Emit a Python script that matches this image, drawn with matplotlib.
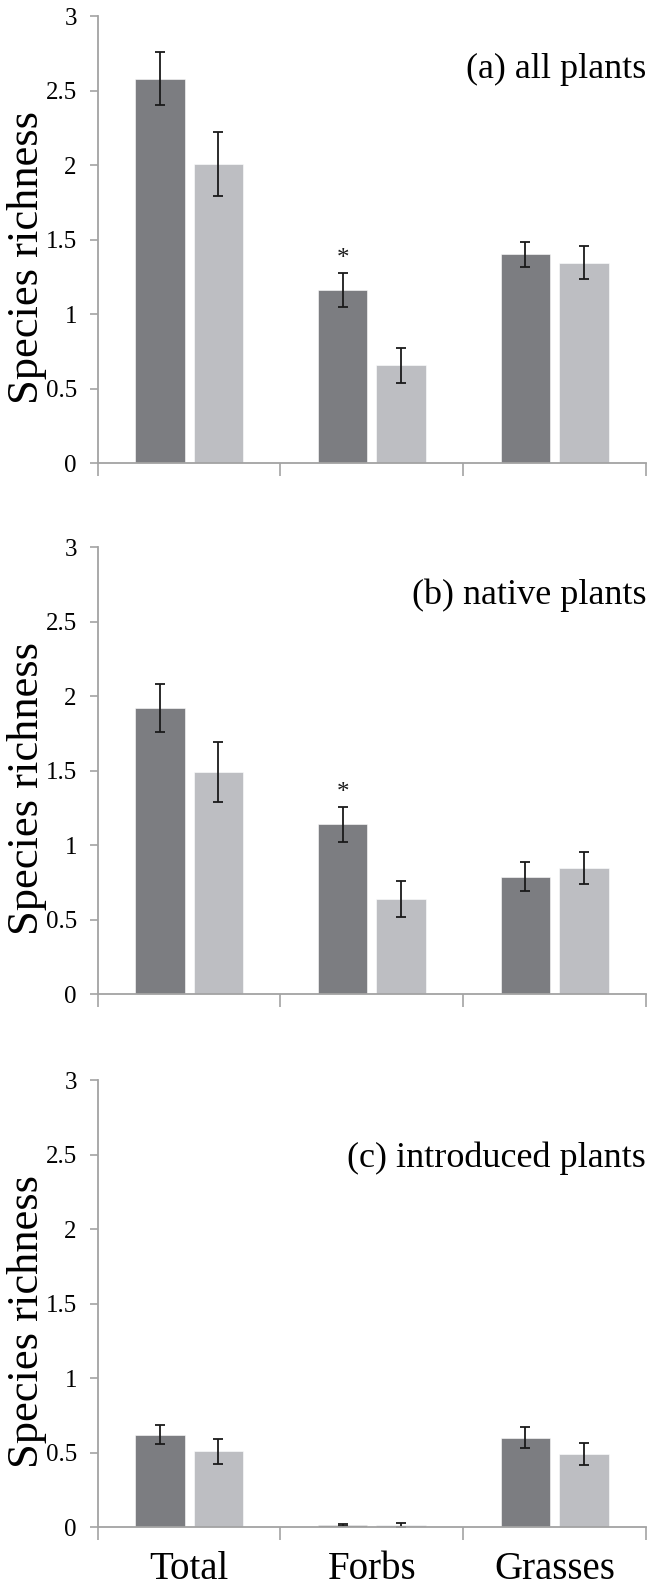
import numpy as np
import matplotlib.pyplot as plt

plt.rcParams['font.family'] = ['Liberation Serif', 'DejaVu Serif']

groups = ['Total', 'Forbs', 'Grasses']
panel_titles = ['(a) all plants', '(b) native plants', '(c) introduced plants']

# dark series / light series, means and error half-widths
dark_vals = [[2.58, 1.16, 1.40],
             [1.92, 1.14, 0.79],
             [0.62, 0.015, 0.60]]
dark_err = [[0.18, 0.115, 0.083],
            [0.16, 0.116, 0.097],
            [0.063, 0.006, 0.07]]
light_vals = [[2.01, 0.655, 1.345],
              [1.49, 0.637, 0.849],
              [0.507, 0.014, 0.489]]
light_err = [[0.215, 0.116, 0.11],
             [0.203, 0.12, 0.107],
             [0.087, 0.016, 0.072]]
# significant differences (panel, group)
stars = [(0, 1), (1, 1)]

dark_col = '#7c7d81'
light_col = '#bdbec2'
axis_col = '#a3a3a3'

fig = plt.figure(figsize=(6.47, 15.89), dpi=100)
bottoms = [0.7086, 0.3743, 0.0390]
title_y = [0.88, 0.893, 0.826]
x = np.arange(len(groups))
w = 0.27
off = 0.16

for i in range(3):
    ax = fig.add_axes([0.151, bottoms[i], 0.8475, 0.2813])
    ax.bar(x - off, dark_vals[i], w, color=dark_col, edgecolor='white', linewidth=0.4, zorder=2)
    ax.bar(x + off, light_vals[i], w, color=light_col, edgecolor='white', linewidth=0.4, zorder=2)
    ax.errorbar(x - off, dark_vals[i], yerr=dark_err[i], fmt='none', ecolor='#1a1a1a',
                elinewidth=1.3, capsize=3.5, capthick=1.3, zorder=3)
    ax.errorbar(x + off, light_vals[i], yerr=light_err[i], fmt='none', ecolor='#1a1a1a',
                elinewidth=1.3, capsize=3.5, capthick=1.3, zorder=3)
    for p, g in stars:
        if p == i:
            ax.text(g - off, dark_vals[i][g] + dark_err[i][g] + 0.02, '*',
                    ha='center', va='bottom', fontsize=18, color='#1a1a1a')

    ax.set_xlim(-0.5, 2.5)
    ax.set_ylim(0, 3)
    ax.set_yticks([0, 0.5, 1, 1.5, 2, 2.5, 3])
    ax.set_yticklabels(['0', '0.5', '1', '1.5', '2', '2.5', '3'])
    ax.set_xticks([-0.5, 0.5, 1.5, 2.5])
    ax.set_xticklabels([])
    ax.set_xticks(x, minor=True)
    if i == 2:
        ax.set_xticklabels(groups, minor=True, fontsize=28)
    else:
        ax.set_xticklabels([], minor=True)
    ax.tick_params(axis='x', which='minor', length=0, pad=17)
    ax.tick_params(axis='x', which='major', length=9, width=1.2, color=axis_col, direction='out')
    ax.tick_params(axis='y', length=6, width=1.2, color=axis_col, labelsize=18, pad=9)

    for s in ['top', 'right']:
        ax.spines[s].set_visible(False)
    for s in ['left', 'bottom']:
        ax.spines[s].set_color(axis_col)
        ax.spines[s].set_linewidth(1.3)
    ax.spines['bottom'].set_zorder(4)

    ax.set_ylabel('Species richness', fontsize=32)
    ax.yaxis.set_label_coords(-0.092, 0.46)
    ax.text(1.0, title_y[i], panel_titles[i], transform=ax.transAxes, ha='right', va='center',
            fontsize=26)

fig.savefig('out.png', dpi=100)
